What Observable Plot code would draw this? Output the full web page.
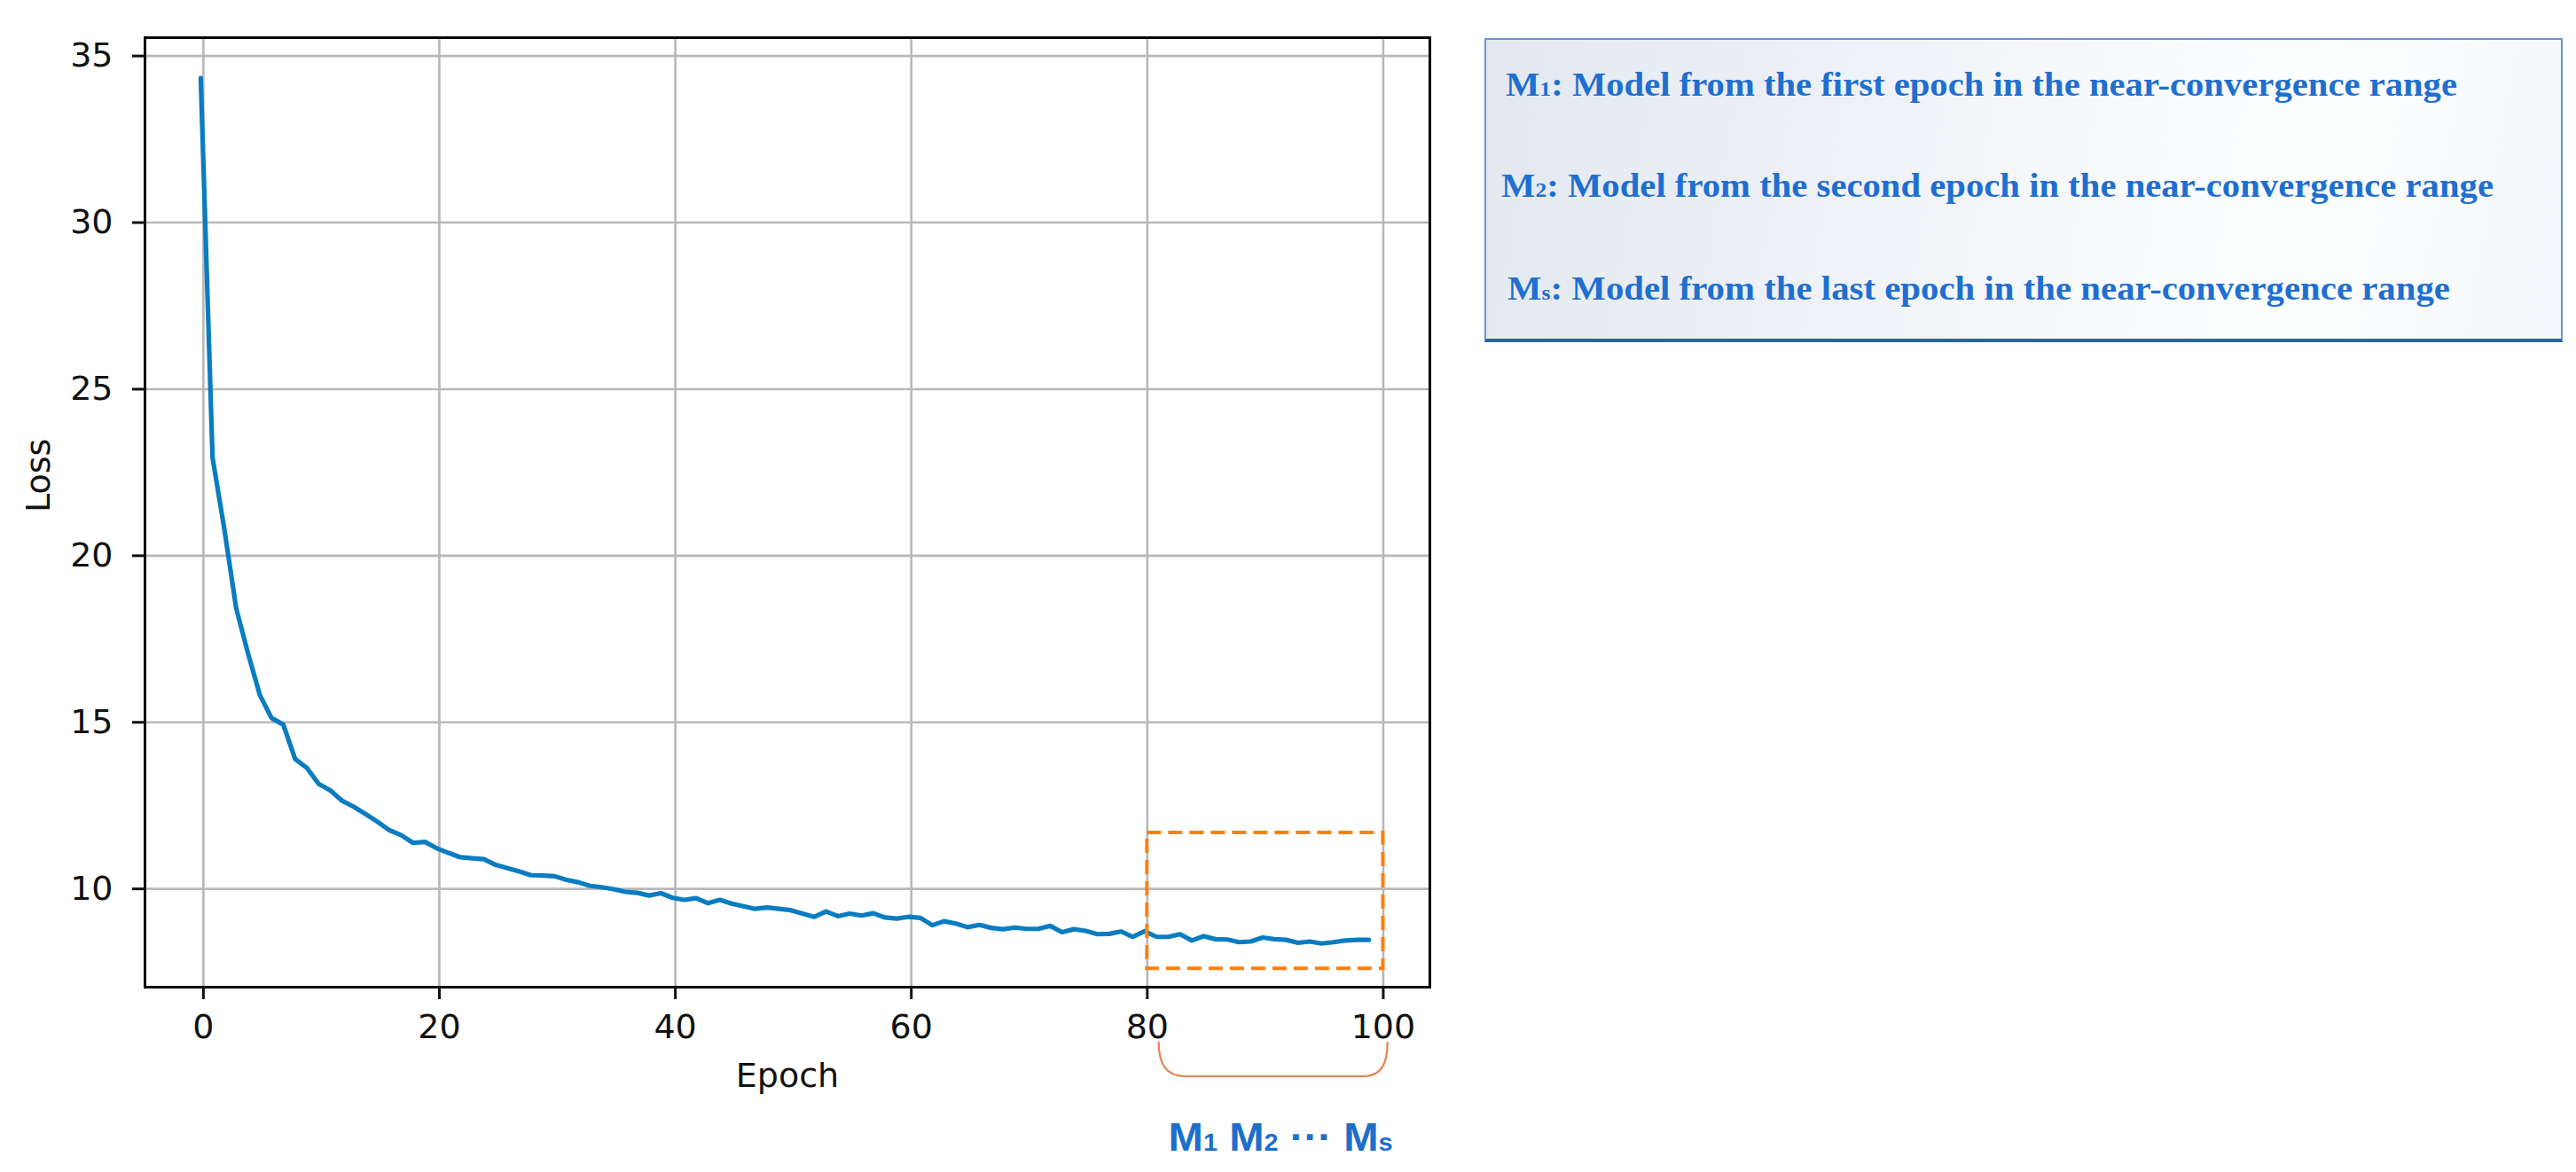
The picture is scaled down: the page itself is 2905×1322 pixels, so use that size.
<!DOCTYPE html>
<html>
<head>
<meta charset="utf-8">
<script src="https://cdn.jsdelivr.net/npm/d3@7"></script>
<script src="https://cdn.jsdelivr.net/npm/@observablehq/plot@0.6"></script>
<style>
  html, body { margin: 0; padding: 0; background: #ffffff; }
  #wrap { position: relative; width: 2905px; height: 1322px; overflow: hidden; background: #fff; }
  #chart { position: absolute; left: 0; top: 0; }
  #legend {
    position: absolute; left: 1674px; top: 43px; width: 1216px; height: 343px;
    box-sizing: border-box;
    border: 2px solid #6a93d0; border-bottom: 4px solid #2d5fb2;
    background: linear-gradient(100deg, #e3e8f0 0%, #edf0f6 30%, #f8f9fc 55%, #fdfeff 75%, #f4f8fc 100%);
  }
  #legend svg { position: absolute; left: 0; top: 0; }
</style>
</head>
<body>
<div id="wrap">
  <div id="chart"></div>
  <div id="legend"></div>
</div>
<script>
// ---- data ----
const loss = [
  34.34, 22.95, 20.8, 18.43, 17.08, 15.83, 15.13, 14.93, 13.9, 13.63,
  13.15, 12.95, 12.64, 12.46, 12.24, 12.01, 11.76, 11.61, 11.38, 11.41,
  11.22, 11.08, 10.95, 10.92, 10.89, 10.72, 10.62, 10.52, 10.41, 10.40,
  10.38, 10.27, 10.20, 10.09, 10.05, 9.99, 9.91, 9.88, 9.80, 9.87,
  9.73, 9.67, 9.72, 9.57, 9.67, 9.56, 9.48, 9.40, 9.44, 9.40,
  9.36, 9.26, 9.16, 9.32, 9.18, 9.26, 9.20, 9.27, 9.14, 9.11,
  9.16, 9.13, 8.91, 9.03, 8.96, 8.85, 8.92, 8.83, 8.79, 8.84,
  8.80, 8.80, 8.89, 8.70, 8.79, 8.74, 8.64, 8.65, 8.72, 8.56,
  8.73, 8.56, 8.56, 8.64, 8.45, 8.58, 8.49, 8.48, 8.40, 8.42,
  8.54, 8.49, 8.47, 8.38, 8.42, 8.36, 8.40, 8.45, 8.47, 8.47
];
const xTicks = [0, 20, 40, 60, 80, 100];
const yTicks = [10, 15, 20, 25, 30, 35];
const xDomain = [-4.95, 103.95];
const yDomain = [7.05, 35.55];
const rangeBox = [{x1: 80, x2: 100, y1: 7.6, y2: 11.68}];
const bracketSpan = [81, 100.4];
const xLabel = "Epoch";
const yLabel = "Loss";
const modelLabels = [
  {main: "M", sub: "1"},
  {main: "M", sub: "2"},
  {main: "\u00b7\u00b7\u00b7", sub: ""},
  {main: "M", sub: "s"}
];
const legendLines = [
  {sub: "1", text: ": Model from the first epoch in the near-convergence range"},
  {sub: "2", text: ": Model from the second epoch in the near-convergence range"},
  {sub: "s", text: ": Model from the last epoch in the near-convergence range"}
];

const rows = loss.map((v, i) => ({epoch: i, loss: v}));

// ---- annotation (bracket + M labels under the x axis) ----
function bracketAnnotation(index, scales, values, dimensions) {
  const x = scales.x;
  const yb = dimensions.height - dimensions.marginBottom;
  const g = d3.create("svg:g");
  const xa = x(bracketSpan[0]), xb = x(bracketSpan[1]);
  const y0 = yb + 62, y1 = yb + 101;
  g.append("path")
    .attr("d", `M${xa},${y0} C${xa},${y1 - 14} ${xa + 8},${y1} ${xa + 30},${y1} L${xb - 27},${y1} C${xb - 7},${y1} ${xb},${y1 - 14} ${xb},${y0}`)
    .attr("fill", "none").attr("stroke", "#e3844f").attr("stroke-width", 2.2);
  const t = g.append("text")
    .attr("x", xa + 11).attr("y", yb + 185)
    .attr("text-anchor", "start")
    .attr("font-family", "'Liberation Sans', Arial, sans-serif")
    .attr("font-weight", "bold").attr("font-size", 44)
    .attr("fill", "#1d6fcc")
    .attr("textLength", 253).attr("lengthAdjust", "spacingAndGlyphs");
  modelLabels.forEach((m, i) => {
    t.append("tspan").text((i > 0 ? " " : "") + m.main);
    if (m.sub) t.append("tspan").attr("font-size", 27).text(m.sub);
  });
  return g.node();
}

const chart = Plot.plot({
  width: 1700,
  height: 1322,
  marginLeft: 163,
  marginRight: 88,
  marginTop: 42,
  marginBottom: 209,
  style: {fontFamily: "'DejaVu Sans', sans-serif", fontSize: "38px", background: "transparent", color: "#111"},
  x: {domain: xDomain, ticks: xTicks},
  y: {domain: yDomain, ticks: yTicks},
  marks: [
    Plot.gridX(xTicks, {stroke: "#b8b8b8", strokeOpacity: 1, strokeWidth: 2.6}),
    Plot.gridY(yTicks, {stroke: "#b8b8b8", strokeOpacity: 1, strokeWidth: 2.6}),
    Plot.line(rows, {x: "epoch", y: "loss", stroke: "#0a7cc1", strokeWidth: 5.2, dx: -3, strokeLinejoin: "round", strokeLinecap: "round"}),
    Plot.rect(rangeBox, {x1: "x1", x2: "x2", y1: "y1", y2: "y2", fill: "none", stroke: "#ff7f0e", strokeWidth: 4, strokeDasharray: "16,8"}),
    Plot.frame({stroke: "#000", strokeWidth: 3}),
    Plot.axisX({ticks: xTicks, tickSize: 14, tickPadding: 17, strokeWidth: 3, fontSize: 38, label: null}),
    Plot.axisY({ticks: yTicks, tickSize: 14, tickPadding: 22, strokeWidth: 3, fontSize: 38, label: null}),
    Plot.text([xLabel], {text: d => d, frameAnchor: "bottom", lineAnchor: "top", dy: 86, fontSize: 38, fill: "#111"}),
    Plot.text([yLabel], {text: d => d, frameAnchor: "left", lineAnchor: "top", rotate: -90, dx: -134, fontSize: 38, fill: "#111"}),
    bracketAnnotation
  ]
});
document.getElementById("chart").appendChild(chart);

// ---- legend box ----
const lg = d3.select("#legend").append("svg").attr("width", 1212).attr("height", 337);
const legendPos = [{x: 22, y: 63, w: 1073}, {x: 17, y: 177, w: 1119}, {x: 24, y: 293, w: 1063}];
legendLines.forEach((d, i) => {
  const p = legendPos[i];
  const t = lg.append("text")
    .attr("x", p.x).attr("y", p.y)
    .attr("text-anchor", "start")
    .attr("font-family", "'Liberation Serif', 'Times New Roman', serif")
    .attr("font-weight", "bold").attr("font-size", 38)
    .attr("fill", "#1f6fd0")
    .attr("textLength", p.w).attr("lengthAdjust", "spacingAndGlyphs");
  t.append("tspan").text("M");
  t.append("tspan").attr("font-size", 24).text(d.sub);
  t.append("tspan").text(d.text);
});
</script>
</body>
</html>
